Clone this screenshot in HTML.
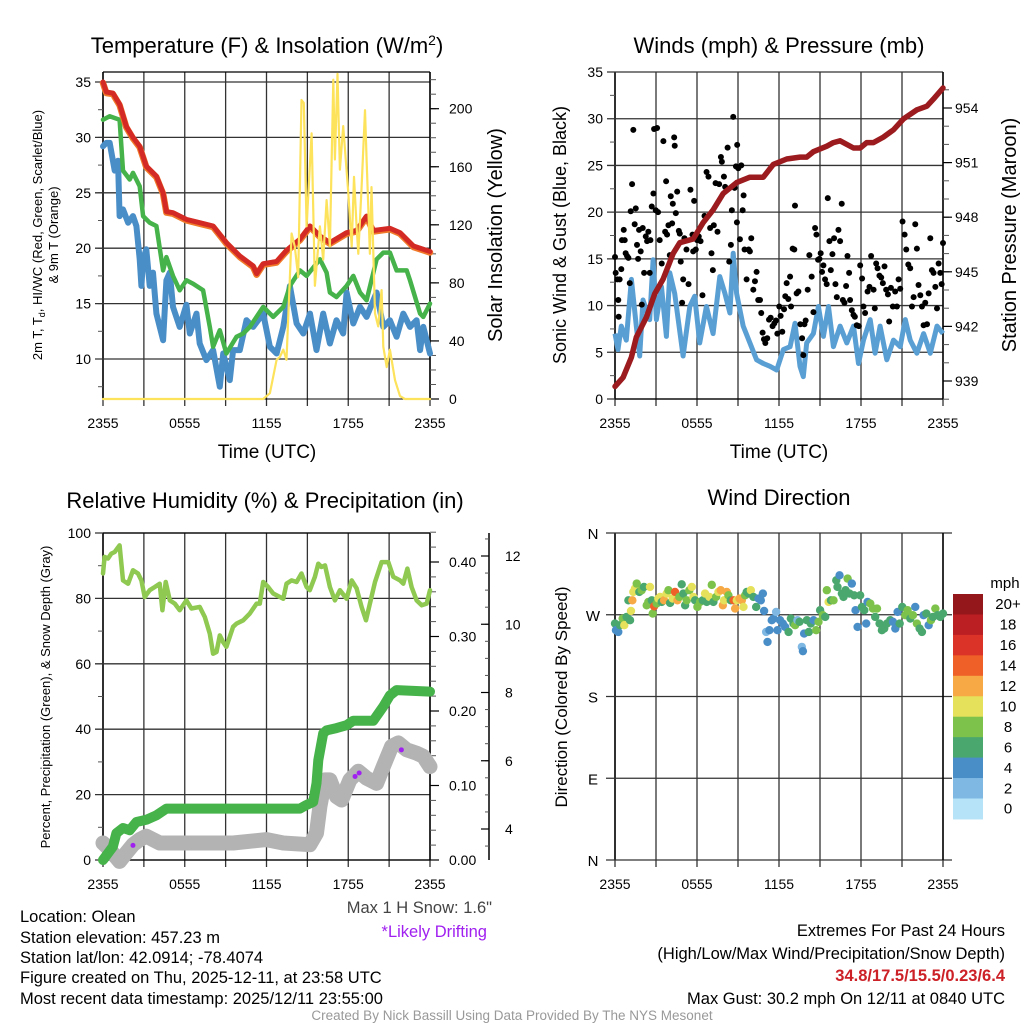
<!DOCTYPE html>
<html><head><meta charset="utf-8"><style>
body{margin:0;background:#fff;}
svg{display:block;font-family:"Liberation Sans",sans-serif;}
</style></head><body>
<svg id="fig" width="1024" height="1024" viewBox="0 0 1024 1024" xmlns="http://www.w3.org/2000/svg">
<rect width="1024" height="1024" fill="#fff"/>
<text x="267" y="53" font-size="22" text-anchor="middle">Temperature (F) &amp; Insolation (W/m<tspan dy="-8" font-size="14">2</tspan><tspan dy="8">)</tspan></text>
<text x="779" y="53" font-size="22" text-anchor="middle">Winds (mph) &amp; Pressure (mb)</text>
<text x="265" y="508" font-size="22" text-anchor="middle">Relative Humidity (%) &amp; Precipitation (in)</text>
<text x="779" y="505" font-size="22" text-anchor="middle">Wind Direction</text>

<text transform="translate(42,235) rotate(-90)" font-size="13" text-anchor="middle">2m T, T<tspan font-size="9" dy="3">d</tspan><tspan dy="-3">, HI/WC (Red, Green, Scarlet/Blue)</tspan></text>
<text transform="translate(58,235) rotate(-90)" font-size="13" text-anchor="middle">&amp; 9m T (Orange)</text>
<text transform="translate(502,235) rotate(-90)" font-size="20" text-anchor="middle">Solar Insolation (Yellow)</text>
<text transform="translate(566,235) rotate(-90)" font-size="18" text-anchor="middle">Sonic Wind &amp; Gust (Blue, Black)</text>
<text transform="translate(1016,235) rotate(-90)" font-size="20" text-anchor="middle">Station Pressure (Maroon)</text>
<text transform="translate(50,697) rotate(-90)" font-size="13" text-anchor="middle">Percent, Precipitation (Green), &amp; Snow Depth (Gray)</text>
<text transform="translate(567,697) rotate(-90)" font-size="17" text-anchor="middle">Direction (Colored By Speed)</text>
<text x="267" y="458" font-size="19" text-anchor="middle">Time (UTC)</text>
<text x="779" y="458" font-size="19" text-anchor="middle">Time (UTC)</text>

<g font-size="16.5">
<text x="20" y="922">Location: Olean</text>
<text x="20" y="943">Station elevation: 457.23 m</text>
<text x="20" y="963">Station lat/lon: 42.0914; -78.4074</text>
<text x="20" y="983">Figure created on Thu, 2025-12-11, at 23:58 UTC</text>
<text x="20" y="1004">Most recent data timestamp: 2025/12/11 23:55:00</text>
<text x="492" y="913" text-anchor="end" fill="#444">Max 1 H Snow: 1.6"</text>
<text x="487" y="937" text-anchor="end" fill="#a020f0">*Likely Drifting</text>
<text x="1005" y="936" text-anchor="end">Extremes For Past 24 Hours</text>
<text x="1005" y="959" text-anchor="end">(High/Low/Max Wind/Precipitation/Snow Depth)</text>
<text x="1005" y="981" text-anchor="end" fill="#cc2127" font-weight="bold">34.8/17.5/15.5/0.23/6.4</text>
<text x="1005" y="1004" text-anchor="end">Max Gust: 30.2 mph On 12/11 at 0840 UTC</text>
<text x="512" y="1020" text-anchor="middle" font-size="13.5" fill="#999">Created By Nick Bassill Using Data Provided By The NYS Mesonet</text>
</g>
</svg>
<script>
// ---------- data ----------
const tempRedHours=[0,0.24,0.73,1.22,1.71,2.2,2.69,3.18,3.92,4.41,4.65,5.14,6.12,7.1,8.08,9.06,10.04,11.02,11.27,11.76,12.74,13.47,14.45,15.19,15.92,16.65,17.88,18.61,19.35,19.84,21.06,21.8,22.78,24];
const tempRed=[35,34.1,34,33,31,30,29.2,27.4,26.5,25,23.3,23.2,22.6,22.3,22,20.5,19.3,18.4,17.7,18.6,18.8,19.8,20.8,22,21.1,20.5,21.4,21.6,22.9,21.6,21.8,21.4,20.2,19.7];
const dewHours=[0,0.49,1.22,1.47,1.96,2.2,2.69,2.94,3.43,3.92,4.41,4.65,5.14,5.63,6.12,6.61,7.35,7.84,8.08,8.57,9.06,9.8,10.29,10.78,11.76,12.49,13.23,13.72,14.45,14.94,15.92,16.41,16.65,17.14,17.88,18.37,18.86,19.35,20.08,20.57,21.06,21.55,22.29,22.53,23.27,23.51,24];
const dewGreen=[31.6,31.9,31.6,27,26.2,26.8,25.6,22.9,22.3,22,18,19.2,17.5,16.2,17.1,16.8,16.2,12.9,11.1,12.6,10.5,12,12.3,12.9,14.7,13.8,14.7,16.6,18,17.5,19,17.8,16,15.6,16.6,17.5,16,15.3,19,19.6,19.6,18,18,17.1,14.1,13.8,15];
const wcHours=[0,0.24,0.49,0.86,1.1,1.22,1.47,1.84,2.2,2.45,2.69,2.82,2.94,3.18,3.43,3.67,3.92,4.41,4.65,4.9,5.14,5.63,6.12,6.37,6.86,7.1,7.59,8.08,8.57,8.82,9.31,9.55,10.04,10.53,11.02,11.76,12.25,12.74,13.23,13.72,14.21,14.7,15.19,15.67,16.16,16.65,17.14,17.63,17.88,18.37,18.86,19.35,20.08,20.57,21.06,21.55,22.04,22.53,23.02,23.27,23.51,24];
const windChill=[29.2,29.5,29.5,27,27.9,22.9,23.5,22.3,22.9,22,19,16.6,19,19.9,16.6,17.8,14.1,11.7,17.1,17.8,14.7,12.9,14.9,12.3,14.1,11.4,9.9,10.8,7.5,10.5,8.1,10.8,10.8,13.5,12.9,14.1,11.1,10.5,12.9,16.6,13.2,12.3,14.1,10.8,14.1,11.4,13.5,12.3,16,13.2,14.7,13.8,16,12.9,13.5,12,14.1,12.9,13.5,10.8,12.9,10.5];
const solarHours=[0,11.76,12.25,12.74,12.98,13.23,13.47,13.72,13.84,14.08,14.33,14.57,14.74,14.94,15.31,15.55,15.92,16.16,16.41,16.65,16.9,17.02,17.21,17.39,17.63,18,18.25,18.42,18.61,18.74,18.98,19.23,19.35,19.59,19.71,19.96,20.2,20.45,20.57,20.82,21.06,21.43,21.8,22.16,24];
const solar=[0,0,4,27,29,34,27,84,114,105,84,206,204,119,183,78,119,96,137,105,220,165,224,158,188,142,105,153,119,100,146,199,165,100,146,59,50,75,36,22,34,13,2,0,0];

const windHours=[0,0.22,0.46,0.83,1.2,1.56,1.81,2.05,2.54,2.79,3.03,3.4,3.76,4.01,4.37,4.98,5.47,5.83,6.2,6.69,7.18,7.67,8.04,8.41,8.65,8.9,9.38,9.87,10.36,10.85,11.34,11.83,12.32,12.81,13.17,13.54,13.78,14.03,14.52,14.88,15.25,15.62,15.98,16.47,16.96,17.45,17.82,18.18,18.67,19.03,19.4,19.89,20.38,20.87,21.24,21.6,22.09,22.58,23.07,23.56,24];
const wind=[7,5.3,7.8,6.3,12.8,7.8,4.6,10.6,8.5,14.9,8.5,12,6.7,13.5,11.3,4.6,9.9,11,6,9.9,7,13.1,11.3,9.2,15.6,11.3,7.8,6,4.2,3.8,3.5,3.1,5.3,5.6,8.1,3.5,2.4,6,7,9.9,6.7,9.9,5.6,7.8,6,7.8,3.8,6.3,8.5,4.9,7.8,4.2,6.3,5.6,8.5,6.3,4.9,7,4.9,7.8,7];
const presHours=[0,0.59,1.2,1.56,2.3,2.91,3.52,4.25,4.74,5.72,6.45,7.18,7.92,8.9,9.87,10.85,11.58,12.56,13.54,14.03,14.52,15.5,15.98,16.47,17.45,17.94,18.42,18.91,19.64,20.38,21.11,22.09,22.82,23.31,24];
const pressure=[938.7,939.2,940.3,941.4,942.5,943.8,944.6,946,946.6,946.8,947.7,948.4,949.3,949.9,950.2,950.2,950.9,951.2,951.3,951.3,951.6,951.9,952.1,952.2,951.8,951.8,952.1,952.1,952.4,952.8,953.4,953.9,954.1,954.5,955.1];
const gustHours=[0,0.05,0.17,0.24,0.34,0.27,0.46,0.51,0.64,0.71,0.78,0.88,0.98,1.08,1.15,1.25,1.34,1.44,1.52,1.61,1.69,1.76,1.88,1.96,2.03,2.13,2.25,2.35,2.44,2.54,2.59,2.69,2.81,2.86,2.98,3.08,3.15,3.27,3.42,3.54,3.67,3.74,3.81,3.91,4.01,4.08,4.18,4.23,4.33,4.37,4.45,4.55,4.67,4.74,4.81,4.91,4.99,5.08,5.23,5.38,5.52,5.67,5.72,5.79,5.91,6.01,6.13,6.26,6.40,6.55,6.70,6.84,6.96,7.06,7.16,7.23,7.36,7.50,7.62,7.75,7.82,7.97,8.06,8.24,8.36,8.48,8.55,8.65,8.75,8.85,8.92,8.94,9.02,9.14,9.24,9.34,9.41,9.48,9.63,9.78,9.87,9.97,10.12,10.24,10.36,10.48,10.61,10.70,10.80,10.90,11.00,11.14,11.27,11.39,11.53,11.66,11.78,11.88,12.02,12.12,12.24,12.37,12.46,12.56,12.68,12.81,12.88,13.00,13.12,13.17,13.29,13.42,13.56,13.69,13.78,13.86,13.95,14.10,14.22,14.39,14.52,14.64,14.74,14.86,14.96,15.05,15.15,15.25,15.37,15.49,15.57,15.69,15.79,15.91,16.03,16.13,16.23,16.35,16.47,16.59,16.67,16.79,16.91,17.01,17.13,17.20,17.33,17.45,17.55,17.69,17.84,17.94,18.08,18.18,18.30,18.48,18.62,18.74,18.92,19.01,19.11,19.21,19.35,19.48,19.60,19.72,19.84,19.97,20.06,20.19,20.33,20.50,20.63,20.75,20.87,21.04,21.19,21.31,21.46,21.60,21.73,21.85,21.97,22.09,22.21,22.34,22.46,22.58,22.70,22.83,22.95,23.07,23.19,23.31,23.44,23.56,23.68,23.80,23.90,24];
const gust=[15.2,13.5,12.8,10.6,12.8,8.8,13.9,17.0,18.1,17.0,15.6,15.3,15.1,12.4,20.1,23.0,28.8,18.7,20.4,16.5,15.0,18.1,15.8,10.1,18.3,13.5,17.4,16.9,17.9,13.5,17.0,20.6,22.0,28.9,20.2,29.0,20.0,17.0,14.5,27.6,17.9,23.3,17.6,18.6,15.4,21.7,18.8,20.9,28.0,27.1,19.9,22.2,18.0,17.7,14.7,10.3,12.8,17.2,16.0,12.3,22.4,17.6,15.8,21.2,16.0,17.0,17.4,16.9,11.1,19.6,24.3,23.8,18.3,15.6,13.8,18.6,23.1,17.9,23.0,25.9,25.4,23.8,22.7,26.9,14.7,16.5,20.2,30.2,22.6,24.9,18.9,27.2,24.7,17.1,25.0,20.2,21.8,16.0,12.8,16.0,15.8,17.2,11.7,12.6,13.6,10.6,10.6,9.2,7.1,6.4,6.0,6.5,8.5,8.7,7.8,8.1,8.4,7.0,9.9,8.9,7.2,9.6,11.0,12.4,10.7,13.1,9.9,16.1,16.0,20.7,11.3,11.5,8.0,6.5,4.7,8.0,8.4,11.7,15.4,13.1,9.3,18.3,17.6,14.9,15.0,15.6,13.6,14.3,12.8,12.3,21.5,16.9,13.8,15.5,17.2,12.3,10.9,18.1,16.9,20.9,10.6,10.3,12.1,15.3,13.5,10.6,9.5,9.0,8.8,7.9,7.8,14.3,12.9,9.9,9.2,11.5,12.0,15.3,11.7,9.7,14.5,14.0,13.2,13.0,12.4,14.2,11.7,11.2,8.3,11.9,9.9,11.5,9.9,12.8,11.8,19.0,17.6,16.0,14.4,14.0,9.9,10.9,18.7,16.1,12.2,11.1,9.9,7.9,10.3,8.0,11.3,17.2,13.8,13.5,12.0,9.7,14.5,13.5,12.3,16.7];

const rhHours=[0,0.12,0.37,0.61,0.86,1.22,1.47,1.84,2.2,2.57,2.82,3.06,3.43,3.8,4.16,4.36,4.6,4.9,5.27,5.63,6.12,6.49,7.1,7.47,7.84,8.08,8.33,8.57,8.82,9.06,9.55,9.8,10.29,10.78,11.27,11.51,11.76,12.12,12.49,13.23,13.47,13.84,14.21,14.57,14.94,15.18,15.55,15.8,16.04,16.29,16.65,17.02,17.39,17.88,18.25,18.61,18.98,19.3,19.59,19.96,20.45,20.94,21.31,21.8,22.04,22.34,22.65,23.02,23.39,23.76,24];
const rh=[87.6,92.7,92.2,93.7,94.2,96.2,85.5,84.5,88.6,87.6,85.5,80.4,82.5,83.5,84.5,76.4,85,79.4,78.4,76.4,79.4,76.9,77.4,74.3,69.2,63.1,63.6,68.7,66.6,65.2,71.3,72.3,73.3,75.4,78.4,78.4,85,83.5,81.5,79.9,84.5,85.5,85,87.6,83.5,82.5,86.6,90.6,89.6,90.1,83.5,79.4,82.5,79.9,85.5,83.1,77.4,73.3,78.4,85,91.1,91.1,86.6,85.5,84.5,89.1,83.5,79.4,77.9,78.4,82.5];
const precipHours=[0,0.73,0.98,1.47,1.96,2.45,3.18,3.92,4.65,14.45,14.94,15.43,15.67,15.8,16.16,16.41,17.14,17.88,18.37,19.84,20.57,21.06,21.55,24];
const precip=[0,0.018,0.036,0.043,0.04,0.051,0.054,0.06,0.069,0.069,0.074,0.078,0.103,0.134,0.17,0.174,0.177,0.181,0.187,0.187,0.206,0.221,0.228,0.226];
const snowHours=[0,0.49,1.22,1.71,2.2,2.69,3.18,4.16,9.55,12.0,13.23,15.18,15.67,15.92,16.29,16.65,17.14,17.51,18.12,18.74,19.35,20.08,20.57,21.18,21.67,22.29,23.02,23.51,24];
const snowDepth=[3.59,3.4,3.05,3.3,3.54,3.69,3.79,3.59,3.59,3.69,3.59,3.54,3.88,4.66,5.44,5.44,4.95,4.85,5.44,5.69,5.49,5.34,5.83,6.42,6.52,6.32,6.22,6.13,5.83];
const driftHours=[2.2,18.5,18.8,21.9];
const driftDepth=[3.52,5.54,5.64,6.32];

const dirHours=[0,0.07,0.24,0.37,0.56,0.68,0.85,0.98,1.1,1.17,1.27,1.34,1.46,1.59,1.78,1.95,2.12,2.32,2.44,2.56,2.69,2.76,2.86,3.05,3.17,3.3,3.42,3.59,3.78,3.91,4.03,4.22,4.39,4.57,4.71,4.88,5.0,5.13,5.25,5.44,5.62,5.74,5.86,6.03,6.23,6.42,6.59,6.71,6.91,7.08,7.2,7.4,7.57,7.74,7.89,7.98,8.18,8.3,8.47,8.67,8.79,8.91,9.11,9.28,9.4,9.52,9.64,9.77,9.94,10.13,10.33,10.5,10.67,10.82,10.91,11.06,11.16,11.3,11.47,11.6,11.79,11.89,12.08,12.28,12.45,12.7,12.87,13.06,13.18,13.35,13.5,13.67,13.75,13.84,14.04,14.18,14.33,14.53,14.72,14.89,15.01,15.21,15.38,15.5,15.63,15.8,15.99,16.19,16.28,16.43,16.6,16.72,16.87,17.02,17.16,17.33,17.5,17.6,17.75,17.94,18.07,18.24,18.38,18.48,18.68,18.87,19.04,19.17,19.36,19.53,19.7,19.9,20.14,20.34,20.51,20.68,20.83,21.02,21.24,21.41,21.61,21.8,21.97,22.09,22.29,22.46,22.58,22.78,22.95,23.12,23.27,23.44,23.61,23.8,24];
const dirDeg=[260.3,253,251.1,258.5,265.8,258.5,267.6,285.9,264,274.2,285.9,295.1,298.8,304.3,295.1,297,300.6,280.4,284.1,300.6,285.9,271.3,279.3,282.3,287.8,289.6,284.1,285.9,293.3,297,283,287.8,295.1,285.9,289.6,303.5,293.3,280.4,285.9,297,300.6,289.6,285.9,278.6,284.1,285.9,293.3,284.1,289.6,302.9,284.1,289.6,295.1,297,280.4,285.9,295.1,291.4,285.9,285.9,276.8,285.9,287.8,285.9,278.6,291.4,295.1,293.3,297,289.6,278.6,287.8,285.9,293.3,274.2,251.1,240.1,253,264,265.8,273.1,253,264,260.3,256.6,251.1,265.8,260.3,258.5,264,262.2,234.6,229.9,249.3,264,251.1,260.3,264,253,262.2,275,269.5,267.6,297,284.1,285.9,285.9,307.9,300.6,313.4,293.3,289.6,297,309.8,293.3,304.3,291.4,275,256.6,291.4,278.6,275,260.3,284.1,282.3,276.8,267.6,276.8,260.3,253,254.8,260.3,264,262.2,254.8,273.1,260.3,278.6,269.5,275,265.8,269.5,278.6,260.3,254.8,251.1,269.5,271.3,258.5,264,267.6,276.8,269.5,267.6,271.3];
const dirSpeed=[6,4,4,6,8,10,6,6,6,10,12,10,10,8,6,8,6,8,8,10,6,8,14,8,10,10,6,12,10,8,6,10,14,12,8,6,6,6,8,8,10,10,6,8,8,6,10,6,10,8,6,8,10,12,12,10,12,8,6,14,12,10,12,12,10,8,6,6,10,6,6,4,4,4,4,2,4,4,4,4,2,4,4,4,4,6,6,6,8,2,6,2,4,4,6,6,6,4,8,8,6,8,6,8,10,6,8,6,6,4,6,6,6,8,6,4,6,4,4,6,6,6,4,4,8,8,6,8,6,6,6,6,6,4,4,4,6,6,8,8,6,8,4,8,6,6,4,6,4,8,6,8,6,6,6];
const speedColors=["#b6e3f8","#7fb8e3","#4a8ec8","#4aa76e","#7dc24b","#e6e15a","#f6a945","#ef6029","#db3327","#bb1e23","#94171b"];
const speedLabels=["0","2","4","6","8","10","12","14","16","18","20+"];
const timeTickLabels=["2355","0555","1155","1755","2355"];

// ---------- helpers ----------
const NS="http://www.w3.org/2000/svg";
const svg=document.getElementById("fig");
function mk(tag,attrs,name,parent){
  const el=document.createElementNS(NS,tag);
  for(const k in attrs) el.setAttribute(k,attrs[k]);
  
  
  (parent||svg).appendChild(el);
  return el;
}
function lin(d0,d1,r0,r1){return v=>r0+(v-d0)*(r1-r0)/(d1-d0);}
function pathD(xs,ys,fx,fy){return xs.map((h,i)=>(i?"L":"M")+fx(h).toFixed(1)+","+fy(ys[i]).toFixed(1)).join("");}
function txt(x,y,s,size,anchor,name,fill){const t=mk("text",{x:x,y:y,"font-size":size,"text-anchor":anchor||"middle",fill:fill||"#000"},name);t.textContent=s;return t;}

function timeAxis(X0,X1,Y0,Y1,prefix){
  const fx=lin(0,24,X0,X1);
  for(let i=0;i<=8;i++){
    const x=fx(i*3);
    mk("line",{x1:x,x2:x,y1:Y0,y2:Y1+7,stroke:"#333","stroke-width":1.3},prefix+"-vgrid");
  }
  timeTickLabels.forEach((s,i)=>txt(fx(i*6),Y1+29,s,14,"middle",prefix+"-x-tick-label"));
  return fx;
}
function leftAxis(X0,X1,Y0,Y1,fy,vals,minors,fmt,prefix,grid){
  mk("line",{x1:X0,x2:X0,y1:Y0,y2:Y1,stroke:"#000","stroke-width":1.5},prefix+"-left-axis");
  minors.forEach(v=>mk("line",{x1:X0-5,x2:X0,y1:fy(v),y2:fy(v),stroke:"#555","stroke-width":1},prefix+"-minor-tick"));
  vals.forEach(v=>{
    const y=fy(v);
    if(grid) mk("line",{x1:X0-8,x2:X1,y1:y,y2:y,stroke:"#333","stroke-width":1.3},prefix+"-hgrid");
    txt(X0-12,y+5,fmt(v),14,"end",prefix+"-y-tick-label");
  });
}
function rightAxis(X,fy,vals,minors,fmt,prefix,lx){
  minors.forEach(v=>mk("line",{x1:X,x2:X+6,y1:fy(v),y2:fy(v),stroke:"#555","stroke-width":1},prefix+"-right-minor-tick"));
  vals.forEach(v=>{
    const y=fy(v);
    mk("line",{x1:X,x2:X+9,y1:y,y2:y,stroke:"#000","stroke-width":1.2},prefix+"-right-tick");
    txt(lx||X+16,y+5,fmt(v),14,"start",prefix+"-right-tick-label");
  });
}
function range(a,b,s){const r=[];for(let v=a;v<=b+1e-9;v+=s)r.push(+v.toFixed(4));return r;}

// ---------- panel 1: temperature ----------
(function(){
  const X0=103,X1=430,Y0=72,Y1=399;
  const fy=lin(10,35,359,82), fs=lin(0,200,399,108.7);
  const fx=timeAxis(X0,X1,Y0,Y1,"temp");
  leftAxis(X0,X1,Y0,Y1,fy,[10,15,20,25,30,35],range(7.5,35,2.5),v=>v,"temp",true);
  mk("line",{x1:X0,x2:X1,y1:Y0,y2:Y0,stroke:"#000","stroke-width":1.3},"temp-top-border");
  mk("line",{x1:X1,x2:X1,y1:Y0,y2:Y1,stroke:"#000","stroke-width":1.5},"temp-right-axis");
  mk("line",{x1:X0,x2:X1,y1:Y1,y2:Y1,stroke:"#000","stroke-width":1},"temp-bottom-border");
  rightAxis(X1,fs,[0,40,80,120,160,200],range(10,220,10),v=>v,"solar",X1+19);
  const g=mk("g",{fill:"none","stroke-linejoin":"round","stroke-linecap":"round"},"temp-series");
  mk("path",{d:pathD(wcHours,windChill,fx,fy),stroke:"#4a8ec8","stroke-width":6},"windchill-line",g);
  mk("path",{d:pathD(dewHours,dewGreen,fx,fy),stroke:"#46b24a","stroke-width":4.5},"dewpoint-line",g);
  mk("path",{d:pathD(tempRedHours,tempRed,fx,fy),stroke:"#f07a2a","stroke-width":6.5,transform:"translate(0,1)"},"temp-9m-line",g);
  mk("path",{d:pathD(tempRedHours,tempRed,fx,fy),stroke:"#d42a25","stroke-width":5},"temp-2m-line",g);
  mk("path",{d:pathD(solarHours,solar,fx,fs),stroke:"#fde25c","stroke-width":2.2},"solar-line",g);
})();

// ---------- panel 2: winds ----------
(function(){
  const X0=615,X1=943,Y0=72,Y1=399;
  const fy=lin(0,35,399,72), fp=lin(939,954,381,108);
  const fx=timeAxis(X0,X1,Y0,Y1,"wind");
  leftAxis(X0,X1,Y0,Y1,fy,[0,5,10,15,20,25,30,35],range(2.5,32.5,5),v=>v,"wind",true);
  mk("line",{x1:X1,x2:X1,y1:Y0,y2:Y1,stroke:"#000","stroke-width":1.5},"wind-right-axis");
  mk("line",{x1:X0,x2:X1,y1:Y1,y2:Y1,stroke:"#000","stroke-width":1.3},"wind-bottom-border");
  rightAxis(X1,fp,[939,942,945,948,951,954],range(938,955,1),v=>v,"pressure",X1+12);
  mk("path",{d:pathD(windHours,wind,fx,fy),fill:"none",stroke:"#5a9fd4","stroke-width":5,"stroke-linejoin":"round"},"sonic-wind-line");
  const g=mk("g",{fill:"#000"},"gust-points");
  gustHours.forEach((h,i)=>mk("circle",{cx:fx(h),cy:fy(gust[i]),r:3},"gust-point",g));
  mk("path",{d:pathD(presHours,pressure,fx,fp),fill:"none",stroke:"#9b1b1e","stroke-width":5.5,"stroke-linejoin":"round","stroke-linecap":"round"},"pressure-line");
})();

// ---------- panel 3: humidity ----------
(function(){
  const X0=103,X1=430,Y0=533,Y1=860;
  const fy=lin(0,100,860,533), fpr=lin(0,0.4,860,562), fsn=lin(4,12,829,556);
  const fx=timeAxis(X0,X1,Y0,Y1,"rh");
  leftAxis(X0,X1,Y0,Y1,fy,[0,20,40,60,80,100],range(10,90,20),v=>v,"rh",true);
  mk("line",{x1:X0,x2:X1,y1:Y0,y2:Y0,stroke:"#000","stroke-width":1.3},"rh-top-border");
  mk("line",{x1:X1,x2:X1,y1:Y0,y2:Y1,stroke:"#000","stroke-width":1.5},"rh-right-axis");
  mk("line",{x1:X0,x2:X1,y1:Y1,y2:Y1,stroke:"#000","stroke-width":1.3},"rh-bottom-border");
  rightAxis(X1,fpr,[0,0.1,0.2,0.3,0.4],range(0,0.44,0.02),v=>v.toFixed(2),"precip",X1+19);
  const SX=489;
  mk("line",{x1:SX,x2:SX,y1:Y0,y2:Y1,stroke:"#000","stroke-width":1.5},"snow-axis");
  range(3.5,12.5,0.5).forEach(v=>mk("line",{x1:SX,x2:SX-4,y1:fsn(v),y2:fsn(v),stroke:"#555","stroke-width":1},"snow-minor-tick"));
  [4,6,8,10,12].forEach(v=>{mk("line",{x1:SX,x2:SX-8,y1:fsn(v),y2:fsn(v),stroke:"#000","stroke-width":1.2},"snow-tick");txt(SX+16,fsn(v)+5,String(v),14,"start","snow-tick-label");});
  const g=mk("g",{fill:"none","stroke-linejoin":"round","stroke-linecap":"round"},"rh-series");
  mk("path",{d:pathD(snowHours,snowDepth,fx,fsn),stroke:"#b3b3b3","stroke-width":15},"snow-depth-line",g);
  mk("path",{d:pathD(precipHours,precip,fx,fpr),stroke:"#46b24a","stroke-width":10},"precip-line",g);
  mk("path",{d:pathD(rhHours,rh,fx,fy),stroke:"#8fc951","stroke-width":4.5},"rh-line",g);
  driftHours.forEach((h,i)=>mk("circle",{cx:fx(h),cy:fsn(driftDepth[i]),r:2.5,fill:"#a020f0"},"drifting-point"));
})();

// ---------- panel 4: wind direction ----------
(function(){
  const X0=615,X1=943,Y0=533,Y1=860;
  const fy=lin(0,360,860,533);
  const fx=timeAxis(X0,X1,Y0,Y1,"dir");
  const dirLabels=["N","E","S","W","N"];
  mk("line",{x1:X0,x2:X0,y1:Y0,y2:Y1,stroke:"#000","stroke-width":1.5},"dir-left-axis");
  [0,90,180,270,360].forEach((v,i)=>{
    const y=fy(v);
    mk("line",{x1:X0-9,x2:X1+9,y1:y,y2:y,stroke:"#333","stroke-width":1.3},"dir-hgrid");
    txt(X0-22,y+6,dirLabels[i],15,"middle","dir-y-tick-label");
  });
  mk("line",{x1:X1,x2:X1,y1:Y0,y2:Y1,stroke:"#000","stroke-width":1.5},"dir-right-border");
  const g=mk("g",{},"direction-points");
  dirHours.forEach((h,i)=>mk("circle",{cx:fx(h),cy:fy(dirDeg[i]),r:4.2,fill:speedColors[Math.min(10,Math.round(dirSpeed[i]/2))]},"direction-point",g));
  // colorbar
  const CX=953,CW=30,CT=594,CH=20.45;
  txt(1005,588,"mph",15,"middle","colorbar-title");
  for(let i=0;i<11;i++){
    const k=10-i;
    mk("rect",{x:CX,y:CT+i*CH,width:CW,height:CH+0.5,fill:speedColors[k]},"colorbar-swatch");
    txt(1008,CT+i*CH+CH/2+5,speedLabels[k],15,"middle","colorbar-label");
  }
})();
</script>
</body></html>
